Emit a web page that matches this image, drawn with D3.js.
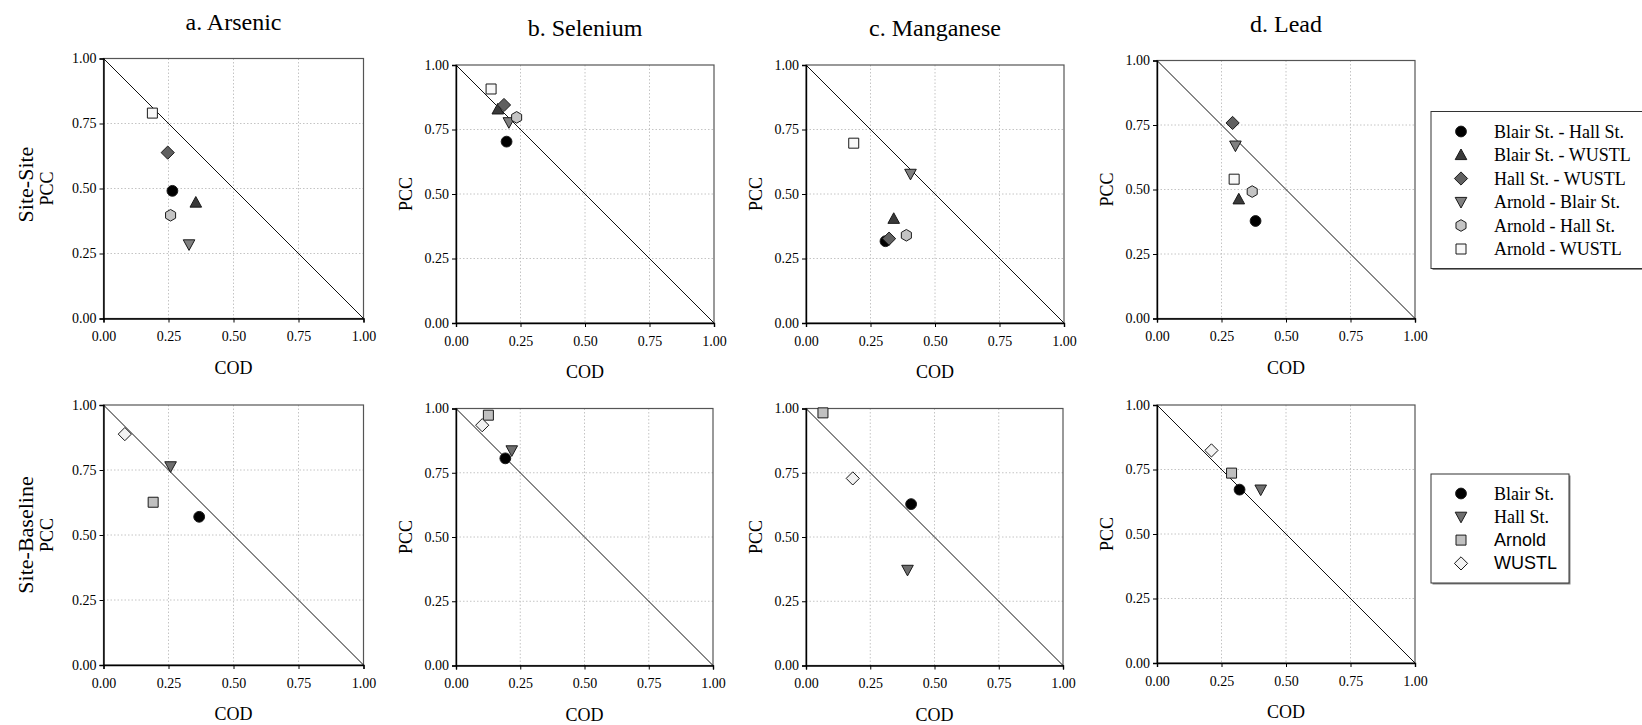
<!DOCTYPE html>
<html>
<head>
<meta charset="utf-8">
<script src="https://cdn.jsdelivr.net/npm/d3@7"></script>
<style>
  html, body { margin: 0; padding: 0; background: #fff; }
  svg { display: block; }
</style>
</head>
<body>
<svg id="chart" width="1642" height="725"></svg>
<script>
// ---------------- DATA ----------------
const elementTitles = ["a. Arsenic", "b. Selenium", "c. Manganese", "d. Lead"];
const rowLabels = ["Site-Site", "Site-Baseline"];
const tickValues = [0, 0.25, 0.5, 0.75, 1];

// Site-Site series (top row)
const pairSeries = ["Blair St. - Hall St.", "Blair St. - WUSTL", "Hall St. - WUSTL",
                    "Arnold - Blair St.", "Arnold - Hall St.", "Arnold - WUSTL"];
const arsenicPairCOD   = [0.265, 0.355, 0.247, 0.329, 0.258, 0.188];
const arsenicPairPCC   = [0.491, 0.446, 0.638, 0.285, 0.397, 0.790];
const seleniumPairCOD  = [0.196, 0.162, 0.186, 0.205, 0.235, 0.136];
const seleniumPairPCC  = [0.703, 0.828, 0.845, 0.778, 0.797, 0.907];
const manganesePairCOD = [0.308, 0.340, 0.322, 0.405, 0.389, 0.185];
const manganesePairPCC = [0.317, 0.404, 0.327, 0.578, 0.340, 0.697];
const leadPairCOD      = [0.382, 0.317, 0.293, 0.304, 0.369, 0.299];
const leadPairPCC      = [0.378, 0.462, 0.758, 0.670, 0.492, 0.540];

// Site-Baseline series (bottom row)
const siteSeries = ["Blair St.", "Hall St.", "Arnold", "WUSTL"];
const arsenicSiteCOD   = [0.368, 0.258, 0.191, 0.082];
const arsenicSitePCC   = [0.570, 0.764, 0.626, 0.888];
const seleniumSiteCOD  = [0.192, 0.217, 0.126, 0.102];
const seleniumSitePCC  = [0.806, 0.837, 0.974, 0.935];
const manganeseSiteCOD = [0.409, 0.395, 0.066, 0.182];
const manganeseSitePCC = [0.628, 0.372, 0.983, 0.728];
const leadSiteCOD      = [0.320, 0.402, 0.289, 0.211];
const leadSitePCC      = [0.672, 0.672, 0.736, 0.824];

// ---------------- STYLE ----------------
const pairShapes = ["circle", "triUp", "diamond", "triDown", "hexagon", "square"];
const pairFills  = ["#000000", "#3a3a3a", "#606060", "#808080", "#c4c4c4", "#f8f8f8"];
const siteShapes = ["circle", "triDown", "square", "diamond"];
const siteFills  = ["#000000", "#6e6e6e", "#c0c0c0", "#f2f2f2"];
const siteFonts  = ["serif", "serif", "sans", "sans"];

const serif = "'Liberation Serif', 'Times New Roman', Times, serif";
const sans  = "'Liberation Sans', Arial, Helvetica, sans-serif";

function shapePath(type) {
  switch (type) {
    case "circle": {
      const r = 5.4;
      return `M${r},0A${r},${r} 0 1,1 ${-r},0A${r},${r} 0 1,1 ${r},0Z`;
    }
    case "square": {
      const h = 5;
      return `M${-h},${-h}H${h}V${h}H${-h}Z`;
    }
    case "diamond": {
      const h = 6.6;
      return `M0,${-h}L${h},0L0,${h}L${-h},0Z`;
    }
    case "triUp":
      return "M0,-6L5.8,4.6L-5.8,4.6Z";
    case "triDown":
      return "M0,6L5.8,-4.6L-5.8,-4.6Z";
    case "hexagon": {
      const r = 5.8;
      const pts = d3.range(6).map(i => {
        const a = Math.PI / 2 + i * Math.PI / 3;
        return [r * Math.cos(a), r * Math.sin(a)];
      });
      return "M" + pts.map(p => p[0].toFixed(2) + "," + p[1].toFixed(2)).join("L") + "Z";
    }
  }
}

// ---------------- LAYOUT ----------------
const svg = d3.select("#chart");

const topRow = [
  {x: 103.5, y: 58.5, s: 260, cod: arsenicPairCOD,   pcc: arsenicPairPCC,   ylab: 50.5},
  {x: 456,   y: 65,   s: 258, cod: seleniumPairCOD,  pcc: seleniumPairPCC,  ylab: 44},
  {x: 806,   y: 65,   s: 258, cod: manganesePairCOD, pcc: manganesePairPCC, ylab: 44},
  {x: 1157,  y: 60.5, s: 258, cod: leadPairCOD,      pcc: leadPairPCC,      ylab: 44}
];
const bottomRow = [
  {x: 103.5, y: 405,   s: 260, cod: arsenicSiteCOD,   pcc: arsenicSitePCC,   ylab: 50.5},
  {x: 456,   y: 408.5, s: 257, cod: seleniumSiteCOD,  pcc: seleniumSitePCC,  ylab: 44},
  {x: 806,   y: 408.5, s: 257, cod: manganeseSiteCOD, pcc: manganeseSitePCC, ylab: 44},
  {x: 1157,  y: 405,   s: 258, cod: leadSiteCOD,      pcc: leadSitePCC,      ylab: 44}
];

function drawPanel(p, shapes, fills, title) {
  const g = svg.append("g").attr("transform", `translate(${p.x},${p.y})`);
  const x = d3.scaleLinear().domain([0, 1]).range([0, p.s]);
  const y = d3.scaleLinear().domain([0, 1]).range([p.s, 0]);

  // grid
  const grid = [0.25, 0.5, 0.75];
  g.selectAll(".gx").data(grid).enter().append("line")
    .attr("x1", d => x(d)).attr("x2", d => x(d)).attr("y1", 0).attr("y2", p.s)
    .attr("stroke", "#c4c4c4").attr("stroke-width", 1).attr("stroke-dasharray", "1.5,2");
  g.selectAll(".gy").data(grid).enter().append("line")
    .attr("y1", d => y(d)).attr("y2", d => y(d)).attr("x1", 0).attr("x2", p.s)
    .attr("stroke", "#c4c4c4").attr("stroke-width", 1).attr("stroke-dasharray", "1.5,2");

  // frame (top/right)
  g.append("rect").attr("x", 0).attr("y", 0).attr("width", p.s).attr("height", p.s)
    .attr("fill", "none").attr("stroke", "#555").attr("stroke-width", 1.2);

  // 1:1 diagonal
  g.append("line")
    .attr("x1", x(0)).attr("y1", y(1)).attr("x2", x(1)).attr("y2", y(0))
    .attr("stroke", "#111").attr("stroke-width", 1);

  // axes
  const fmt = d3.format(".2f");
  const xAxis = g.append("g").attr("transform", `translate(0,${p.s})`)
    .call(d3.axisBottom(x).tickValues(tickValues).tickFormat(fmt).tickSize(4).tickPadding(9));
  const yAxis = g.append("g")
    .call(d3.axisLeft(y).tickValues(tickValues).tickFormat(fmt).tickSize(4).tickPadding(3));
  [xAxis, yAxis].forEach(a => {
    a.select(".domain").attr("stroke", "#000").attr("stroke-width", 1.4);
    a.selectAll(".tick line").attr("stroke", "#000");
    a.selectAll("text").attr("font-family", serif).attr("font-size", 14).attr("fill", "#000");
  });

  // axis titles
  g.append("text").attr("x", p.s / 2).attr("y", p.s + 55)
    .attr("text-anchor", "middle").attr("font-family", serif).attr("font-size", 18).text("COD");
  g.append("text")
    .attr("transform", `translate(${-p.ylab},${p.s / 2}) rotate(-90)`)
    .attr("text-anchor", "middle").attr("font-family", serif).attr("font-size", 18).text("PCC");

  if (title) {
    g.append("text").attr("x", p.s / 2).attr("y", -29)
      .attr("text-anchor", "middle").attr("font-family", serif).attr("font-size", 24).text(title);
  }

  // points
  const pts = p.cod.map((c, i) => ({c, v: p.pcc[i], i}));
  g.selectAll(".pt").data(pts).enter().append("path")
    .attr("transform", d => `translate(${x(d.c)},${y(d.v)})`)
    .attr("d", d => shapePath(shapes[d.i]))
    .attr("fill", d => fills[d.i])
    .attr("stroke", "#1a1a1a").attr("stroke-width", 1);
  return g;
}

topRow.forEach((p, i) => drawPanel(p, pairShapes, pairFills, elementTitles[i]));
bottomRow.forEach((p, i) => drawPanel(p, siteShapes, siteFills, null));

// Row labels
svg.append("text")
  .attr("transform", `translate(33,${topRow[0].y + topRow[0].s / 2 - 4}) rotate(-90)`)
  .attr("text-anchor", "middle").attr("font-family", serif).attr("font-size", 22).text(rowLabels[0]);
svg.append("text")
  .attr("transform", `translate(33,${bottomRow[0].y + bottomRow[0].s / 2}) rotate(-90)`)
  .attr("text-anchor", "middle").attr("font-family", serif).attr("font-size", 22).text(rowLabels[1]);

// Legends
function drawLegend(bx, by, bw, bh, names, shapes, fills, fonts, rowY0, rowStep) {
  const g = svg.append("g").attr("transform", `translate(${bx},${by})`);
  g.append("rect").attr("x", 1.5).attr("y", 1.5).attr("width", bw).attr("height", bh)
    .attr("fill", "#888");
  g.append("rect").attr("x", 0).attr("y", 0).attr("width", bw).attr("height", bh)
    .attr("fill", "#fff").attr("stroke", "#333").attr("stroke-width", 1);
  names.forEach((n, i) => {
    const yy = rowY0 + i * rowStep;
    g.append("path").attr("transform", `translate(30,${yy})`)
      .attr("d", shapePath(shapes[i])).attr("fill", fills[i])
      .attr("stroke", "#1a1a1a").attr("stroke-width", 1);
    g.append("text").attr("x", 63).attr("y", yy + 6)
      .attr("font-family", fonts && fonts[i] === "sans" ? sans : serif)
      .attr("font-size", 18).text(n);
  });
}
drawLegend(1431, 111.5, 215, 157, pairSeries, pairShapes, pairFills, null, 20, 23.5);
drawLegend(1431, 474, 138, 109, siteSeries, siteShapes, siteFills, siteFonts, 19.5, 23.3);
</script>
</body>
</html>
